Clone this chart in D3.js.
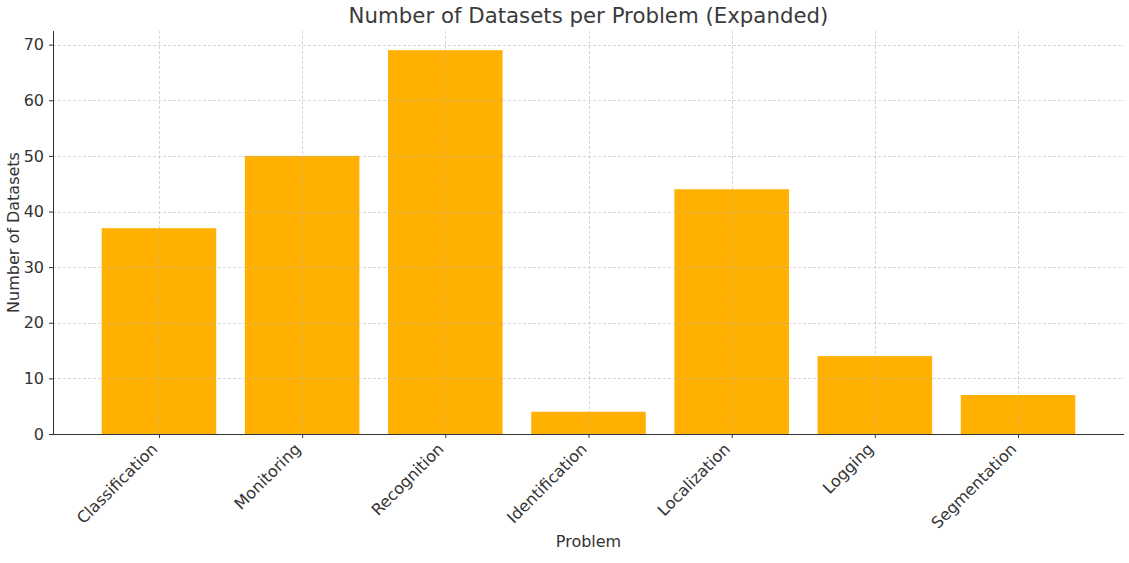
<!DOCTYPE html>
<html>
<head>
<meta charset="utf-8">
<script src="https://cdn.jsdelivr.net/npm/d3@7"></script>
<style>
  body { margin: 0; background: #fff; }
  svg text { font-family: "DejaVu Sans", sans-serif; fill: #333; }
</style>
</head>
<body>
<div id="chart"></div>
<script>
// Chart data
var problems = ["Classification", "Monitoring", "Recognition", "Identification", "Localization", "Logging", "Segmentation"];
var datasetCounts = [37, 50, 69, 4, 44, 14, 7];
var yTicks = [0, 10, 20, 30, 40, 50, 60, 70];

var width = 1129;
var height = 563;

// plot area
var plotLeft = 53, plotRight = 1124, plotTop = 31, plotBottom = 434;

var svg = d3.select("#chart")
    .append("svg")
    .attr("width", width)
    .attr("height", height);

// x scale in category units, like matplotlib's bar positions
var xScale = d3.scaleLinear()
    .domain([-0.74, problems.length - 1 + 0.74])
    .range([plotLeft, plotRight]);

var yScale = d3.scaleLinear()
    .domain([0, d3.max(datasetCounts) * 1.05])
    .range([plotBottom, plotTop]);

var barWidth = 0.8;

// bars
svg.append("g")
    .selectAll("rect")
    .data(datasetCounts)
    .enter()
    .append("rect")
    .attr("x", function(d, i) { return xScale(i - barWidth / 2); })
    .attr("width", function() { return xScale(barWidth) - xScale(0); })
    .attr("y", function(d) { return yScale(d); })
    .attr("height", function(d) { return plotBottom - yScale(d); })
    .attr("fill", "#ffb000");

// grid lines drawn over the bars
var grid = svg.append("g")
    .attr("stroke", "#b0b0b0")
    .attr("stroke-opacity", 0.65)
    .attr("stroke-width", 0.8)
    .attr("stroke-dasharray", "3,2");

grid.selectAll("line.h")
    .data(yTicks)
    .enter()
    .append("line")
    .attr("class", "h")
    .attr("x1", plotLeft)
    .attr("x2", plotRight)
    .attr("y1", function(d) { return Math.round(yScale(d)) + 0.5; })
    .attr("y2", function(d) { return Math.round(yScale(d)) + 0.5; });

grid.selectAll("line.v")
    .data(problems)
    .enter()
    .append("line")
    .attr("class", "v")
    .attr("y1", plotTop)
    .attr("y2", plotBottom)
    .attr("x1", function(d, i) { return Math.round(xScale(i)) + 0.5; })
    .attr("x2", function(d, i) { return Math.round(xScale(i)) + 0.5; });

// y axis
var yAxis = d3.axisLeft(yScale)
    .tickValues(yTicks)
    .tickSize(4)
    .tickPadding(5);

var yG = svg.append("g")
    .attr("transform", "translate(" + plotLeft + ",0)")
    .call(yAxis);
yG.select(".domain").attr("stroke", "#333").attr("d", "M0.5," + plotTop + "V" + plotBottom);
yG.selectAll(".tick line").attr("stroke", "#333");
yG.selectAll(".tick text").attr("font-size", 16).style("fill", "#333");

// x axis
var xAxis = d3.axisBottom(xScale)
    .tickValues(d3.range(problems.length))
    .tickFormat(function(i) { return problems[i]; })
    .tickSize(4)
    .tickPadding(5);

var xG = svg.append("g")
    .attr("transform", "translate(0," + plotBottom + ")")
    .call(xAxis);
xG.select(".domain").attr("stroke", "#333").attr("d", "M" + plotLeft + ",0.5H" + plotRight);
xG.selectAll(".tick line").attr("stroke", "#333");
xG.selectAll(".tick text")
    .attr("font-size", 16)
    .style("fill", "#333")
    .attr("text-anchor", "end")
    .attr("dy", "0.35em")
    .attr("transform", "translate(-5,12) rotate(-45)")
    .attr("y", 0)
    .attr("x", 0);

// axis labels
svg.append("text")
    .attr("x", (plotLeft + plotRight) / 2)
    .attr("y", 547)
    .attr("text-anchor", "middle")
    .attr("font-size", 16)
    .text("Problem");

svg.append("text")
    .attr("transform", "translate(19," + ((plotTop + plotBottom) / 2) + ") rotate(-90)")
    .attr("text-anchor", "middle")
    .attr("font-size", 16)
    .text("Number of Datasets");

// title
svg.append("text")
    .attr("x", (plotLeft + plotRight) / 2)
    .attr("y", 23)
    .attr("text-anchor", "middle")
    .attr("font-size", 21.3)
    .style("fill", "#3a3a3a")
    .text("Number of Datasets per Problem (Expanded)");
</script>
</body>
</html>
